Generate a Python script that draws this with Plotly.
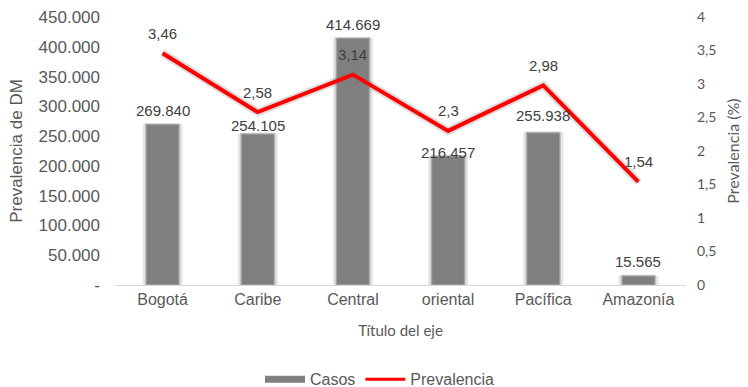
import plotly.graph_objects as go

# Regions of Colombia
regiones = ["Bogotá", "Caribe", "Central", "oriental", "Pacífica", "Amazonía"]
# Cases of diabetes mellitus (left axis)
casos = [269840, 254105, 414669, 216457, 255938, 15565]
# Prevalence in percent (right axis)
prevalencia = [3.46, 2.58, 3.14, 2.3, 2.98, 1.54]

left_ticks = [0, 50000, 100000, 150000, 200000, 250000, 300000, 350000, 400000, 450000]
left_ticktext = ["-"] + [f"{v:,}".replace(",", ".") for v in left_ticks[1:]]
right_ticks = [0, 0.5, 1, 1.5, 2, 2.5, 3, 3.5, 4]
right_ticktext = [f"{v:g}".replace(".", ",") for v in right_ticks]

GREY = "#7f7f7f"
TEXT = "#595959"
LABEL = "#404040"
ARIAL = "Liberation Sans, Arial, sans-serif"
CALIBRI = "Lato, Open Sans, sans-serif"

fig = go.Figure()

# soft glow behind bars
fig.add_trace(go.Bar(
    x=regiones, y=casos, width=0.42,
    marker=dict(color="rgba(150,150,150,0.25)", line=dict(width=0)),
    showlegend=False, hoverinfo="skip",
))
fig.add_trace(go.Bar(
    x=regiones, y=casos, width=0.35, name="Casos",
    marker=dict(color=GREY, line=dict(color="rgba(170,170,170,0.6)", width=2)),
    showlegend=False,
))

# soft shadow under the line
fig.add_trace(go.Scatter(
    x=regiones, y=prevalencia, yaxis="y2", mode="lines",
    line=dict(color="rgba(120,120,120,0.25)", width=8),
    showlegend=False, hoverinfo="skip",
))
fig.add_trace(go.Scatter(
    x=regiones, y=prevalencia, yaxis="y2", mode="lines", name="Prevalencia",
    line=dict(color="#ff0000", width=4), showlegend=False,
))

# legend entries
fig.add_trace(go.Scatter(
    x=[None], y=[None], mode="lines", name="Casos",
    line=dict(color=GREY, width=7),
))
fig.add_trace(go.Scatter(
    x=[None], y=[None], mode="lines", name="Prevalencia",
    line=dict(color="#ff0000", width=3),
))

bar_shift = {"Bogotá": 14, "Caribe": 8, "Central": 14, "oriental": 4, "Pacífica": 17, "Amazonía": 14}
annotations = []
for r, c in zip(regiones, casos):
    annotations.append(dict(
        x=r, y=c, xref="x", yref="y", text=f"{c:,}".replace(",", "."),
        showarrow=False, yshift=bar_shift[r], yanchor="middle",
        font=dict(family=ARIAL, size=15, color=LABEL),
    ))
for r, p in zip(regiones, prevalencia):
    annotations.append(dict(
        x=r, y=p, xref="x", yref="y2", text=f"{p:g}".replace(".", ","),
        showarrow=False, yshift=20, yanchor="middle",
        font=dict(family=ARIAL, size=15, color=LABEL),
    ))

fig.update_layout(
    width=748, height=387,
    margin=dict(l=115, r=62, t=17, b=102),
    paper_bgcolor="white", plot_bgcolor="white",
    barmode="overlay",
    annotations=annotations,
    xaxis=dict(
        automargin=False,
        showgrid=False, showline=True, linecolor="#d9d9d9", linewidth=1,
        ticks="", tickfont=dict(family=ARIAL, size=16, color=TEXT),
        title=dict(text="Título del eje", font=dict(family=CALIBRI, size=15, color=TEXT), standoff=18),
    ),
    yaxis=dict(
        automargin=False,
        range=[0, 450000], tickvals=left_ticks, ticktext=left_ticktext,
        showgrid=False, zeroline=False, ticks="", ticklabelstandoff=14,
        tickfont=dict(family=ARIAL, size=17, color=TEXT),
        title=dict(text="Prevalencia de DM", font=dict(family=ARIAL, size=17, color=TEXT), standoff=11),
    ),
    yaxis2=dict(
        automargin=False,
        range=[0, 4], tickvals=right_ticks, ticktext=right_ticktext,
        overlaying="y", side="right", showgrid=False, zeroline=False, ticks="",
        ticklabelstandoff=10,
        tickfont=dict(family=CALIBRI, size=14, color=TEXT),
        title=dict(text="Prevalencia (%)", font=dict(family=CALIBRI, size=16, color=TEXT), standoff=12),
    ),
    legend=dict(
        orientation="h", xref="container", yref="container",
        x=0.508, y=0.02, xanchor="center", yanchor="middle",
        font=dict(family=ARIAL, size=16, color=TEXT), itemwidth=40,
    ),
)

fig.write_html("out.html")
